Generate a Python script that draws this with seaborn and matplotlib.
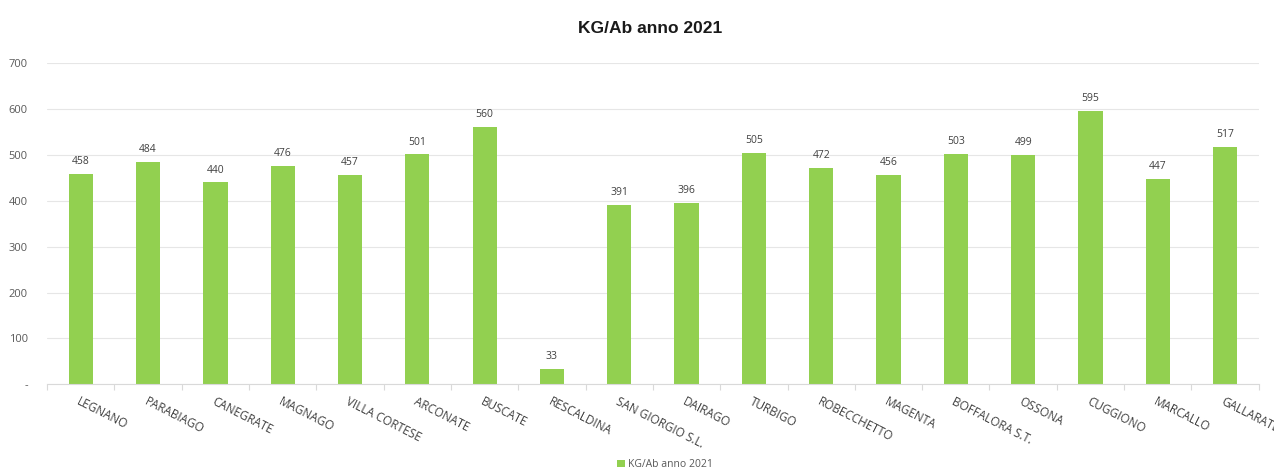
import matplotlib
matplotlib.use("Agg")
import matplotlib.pyplot as plt
import matplotlib.transforms as mtransforms
import seaborn as sns
import pandas as pd

comuni = ["LEGNANO", "PARABIAGO", "CANEGRATE", "MAGNAGO", "VILLA CORTESE", "ARCONATE",
          "BUSCATE", "RESCALDINA", "SAN GIORGIO S.L.", "DAIRAGO", "TURBIGO", "ROBECCHETTO",
          "MAGENTA", "BOFFALORA S.T.", "OSSONA", "CUGGIONO", "MARCALLO", "GALLARATE"]
kg_ab = [458, 484, 440, 476, 457, 501, 560, 33, 391, 396, 505, 472, 456, 503, 499, 595, 447, 517]
serie = "KG/Ab anno 2021"
yticks = [0, 100, 200, 300, 400, 500, 600, 700]
ylabels = ["-", "100", "200", "300", "400", "500", "600", "700"]

df = pd.DataFrame({"comune": comuni, "valore": kg_ab})

sns.set_style("white")
plt.rcParams['font.family'] = ['Open Sans', 'DejaVu Sans']

fig = plt.figure(figsize=(12.74, 4.72), dpi=100)
ax = fig.add_axes([0.037, 0.186, 0.951, 0.680])

green = "#92D050"
sns.barplot(data=df, x="comune", y="valore", color=green, width=0.36, ax=ax,
            label=serie, saturation=1, linewidth=0)

ax.set_ylim(0, 700)
ax.set_xlim(-0.5, len(comuni) - 0.5)
ax.set_yticks(yticks)
ax.set_yticklabels(ylabels, fontsize=8, color="#595959")
ax.grid(axis="y", color="#E6E6E6", linewidth=0.8)
ax.set_axisbelow(True)
for s in ["top", "right", "left"]:
    ax.spines[s].set_visible(False)
ax.spines["bottom"].set_color("#D9D9D9")
ax.tick_params(axis="y", length=0, pad=14)

# x ticks: labels at centers, tick marks at boundaries
ax.set_xticks(range(len(comuni)))
ax.set_xticklabels(comuni, rotation=-27, ha="left", va="top", rotation_mode="anchor",
                   fontsize=8.5, color="#404040")
offset = mtransforms.ScaledTranslation(-16 / 100, 0, fig.dpi_scale_trans)
for lab in ax.get_xticklabels():
    lab.set_transform(lab.get_transform() + offset)
ax.tick_params(axis="x", which="major", length=0, pad=8)
ax.set_xticks([i - 0.5 for i in range(len(comuni) + 1)], minor=True)
ax.tick_params(axis="x", which="minor", bottom=True, length=4, width=0.8,
               color="#D9D9D9", direction="out")

ax.set_xlabel("")
ax.set_ylabel("")

for i, v in enumerate(kg_ab):
    ax.annotate(str(v), (i, v), xytext=(0, 5), textcoords="offset points",
                ha="center", va="bottom", fontsize=7.5, color="#404040")

fig.suptitle(serie, x=0.51, y=0.955, fontsize=12.5, fontweight="bold", color="#1a1a1a",
             family=["Liberation Sans", "DejaVu Sans"])

ax.legend(loc="upper center", bbox_to_anchor=(0.51, -0.205), frameon=False, fontsize=7.5,
          handlelength=0.7, handleheight=0.7, handletextpad=0.3, labelcolor="#595959")

fig.savefig("out.png", dpi=100)
